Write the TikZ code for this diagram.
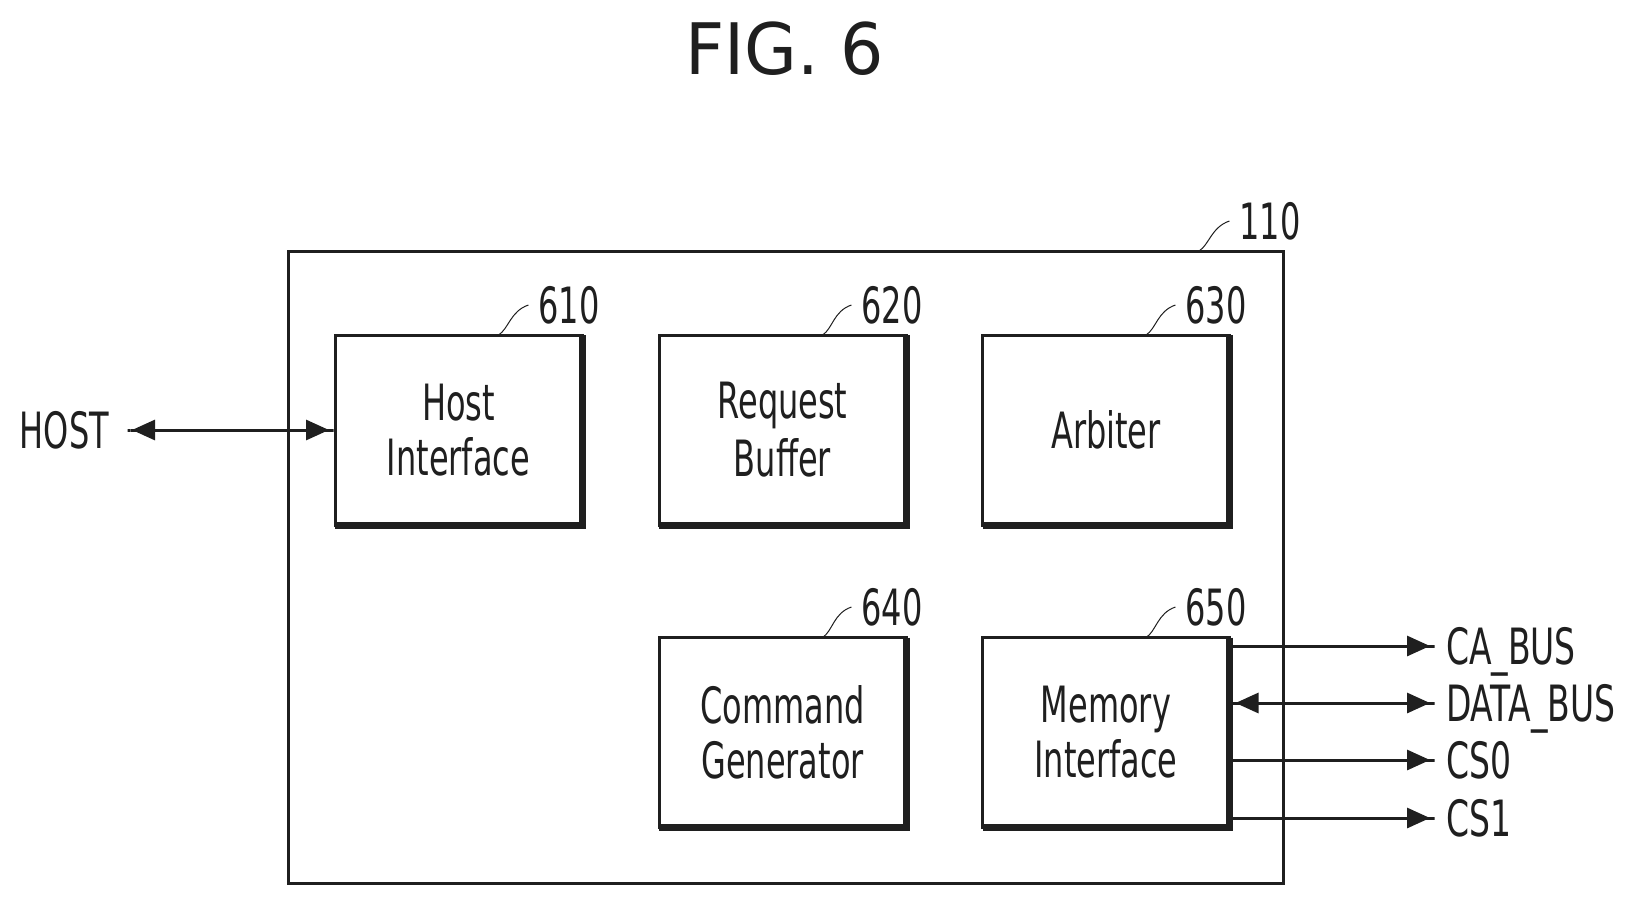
\documentclass[tikz,border=0pt]{standalone}
\usepackage{fontspec}
\usetikzlibrary{arrows.meta,calc}
\newfontfamily\figfont[FakeStretch=0.64]{DejaVu Sans}
\newfontfamily\portfont[FakeStretch=0.66]{DejaVu Sans}
\newfontfamily\titlefont[FakeStretch=0.96]{DejaVu Sans}
\definecolor{ink}{gray}{0.12}
\tikzset{
  blockbox/.style={draw=ink,line width=3pt,fill=white,minimum width=247pt,minimum height=190pt,outer sep=0pt,inner sep=0pt,
    align=center,text=ink,font=\figfont\fontsize{50}{55}\selectfont},
  shadowline/.style={draw=ink,line width=7pt,line cap=butt,line join=miter},
  outerbox/.style={draw=ink,line width=3pt,minimum width=995pt,minimum height=632pt,outer sep=0pt,inner sep=0pt},
  caplabel/.style={text=ink,font=\figfont\fontsize{50}{55}\selectfont,text height=36.5pt,text depth=0pt,inner ysep=0pt,outer sep=0pt},
  reflabel/.style={caplabel,inner xsep=10pt},
  portlabel/.style={caplabel,font=\portfont\fontsize{50}{55}\selectfont,anchor=west,inner xsep=10pt},
  leader/.style={draw=ink,line width=1pt},
  wire/.style={draw=ink,line width=3pt},
  toarrow/.style={wire,-{Triangle[length=23pt,width=20pt]Rectangle[length=6pt,width=3pt]}},
  botharrow/.style={wire,{Rectangle[length=6pt,width=3pt]Triangle[length=23pt,width=20pt]}-{Triangle[length=23pt,width=20pt]Rectangle[length=6pt,width=3pt]}},
}
\begin{document}
\begin{tikzpicture}[x=1pt,y=-1pt]
\useasboundingbox (0,0) rectangle (1638,905);
\node[text=ink,font=\titlefont\fontsize{71}{75}\selectfont,inner sep=0pt] (title) at (784.5,49) {FIG. 6};
\node[outerbox] (outer) at (785.5,567) {};
\node[blockbox] (b610) at (458.5,430) {Host\\Interface};
\node[blockbox] (b620) at (782.5,430) {Request\\[3pt]Buffer};
\node[blockbox] (b630) at (1106,430) {Arbiter};
\node[blockbox] (b640) at (782.5,732.5) {Command\\Generator};
\node[blockbox] (b650) at (1106,732.5) {Memory\\Interface};
\foreach \b in {b610,b620,b630,b640,b650}
  \draw[shadowline] (\b.north east) -- (\b.south east) -- (\b.south west);
\node[reflabel] (l110) at (1270,221) {110};
\node[reflabel] (l610) at (569,305) {610};
\node[reflabel] (l620) at (892,305) {620};
\node[reflabel] (l630) at (1216,305) {630};
\node[reflabel] (l640) at (892,607) {640};
\node[reflabel] (l650) at (1216,607) {650};
\foreach \b/\l in {b610/l610,b620/l620,b630/l630,b640/l640,b650/l650}
  \draw[leader] ($(\b.north)+(40,0)$) .. controls +(10,-6) and +(-18,6) .. (\l.west);
\draw[leader] ($(outer.north east)+(-84,0)$) .. controls +(10,-6) and +(-18,6) .. (l110.west);
\node[caplabel,anchor=east,inner xsep=17pt] (host) at (126,430) {HOST};
\draw[botharrow] (host.east) -- (b610.west);
\node[portlabel] (ca) at (1436,646) {CA\_BUS};
\node[portlabel] (data) at (1436,703) {DATA\_BUS};
\node[portlabel] (cs0) at (1436,760) {CS0};
\node[portlabel] (cs1) at (1436,818) {CS1};
\draw[toarrow] (b650.east |- ca.west) -- (ca.west);
\draw[botharrow] (b650.east |- data.west) -- (data.west);
\draw[toarrow] (b650.east |- cs0.west) -- (cs0.west);
\draw[toarrow] (b650.east |- cs1.west) -- (cs1.west);
\end{tikzpicture}
\end{document}
